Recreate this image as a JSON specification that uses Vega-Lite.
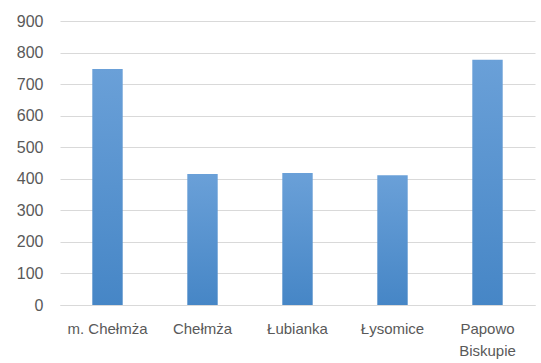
{
  "$schema": "https://vega.github.io/schema/vega-lite/v6.json",
  "width": 475,
  "height": 284,
  "autosize": {"type": "none"},
  "padding": {"left": 60, "top": 21, "right": 6, "bottom": 58},
  "background": "white",
  "data": {
    "values": [
      {"gmina": "m. Chełmża", "value": 748},
      {"gmina": "Chełmża", "value": 415},
      {"gmina": "Łubianka", "value": 418},
      {"gmina": "Łysomice", "value": 411},
      {"gmina": "Papowo Biskupie", "value": 777}
    ]
  },
  "mark": {
    "type": "bar",
    "color": {
      "gradient": "linear",
      "x1": 0, "y1": 0, "x2": 0, "y2": 1,
      "stops": [
        {"offset": 0, "color": "#6aa0d8"},
        {"offset": 1, "color": "#4686c6"}
      ]
    }
  },
  "encoding": {
    "x": {
      "field": "gmina",
      "type": "nominal",
      "sort": null,
      "scale": {"paddingInner": 0.68, "paddingOuter": 0.34},
      "axis": {
        "title": null,
        "labelAngle": 0,
        "ticks": false,
        "domain": true,
        "domainColor": "#d9d9d9",
        "domainWidth": 1,
        "labelPadding": 16,
        "labelFont": "Liberation Sans",
        "labelFontSize": 15,
        "labelLineHeight": 22,
        "labelColor": "#595959",
        "labelExpr": "datum.label == 'Papowo Biskupie' ? ['Papowo', 'Biskupie'] : datum.label"
      }
    },
    "y": {
      "field": "value",
      "type": "quantitative",
      "scale": {"domain": [0, 900], "nice": false},
      "axis": {
        "title": null,
        "values": [0, 100, 200, 300, 400, 500, 600, 700, 800, 900],
        "ticks": false,
        "domain": false,
        "gridColor": "#d9d9d9",
        "gridWidth": 1,
        "labelPadding": 17,
        "labelFont": "Liberation Sans",
        "labelFontSize": 16,
        "labelColor": "#595959"
      }
    }
  },
  "config": {"view": {"stroke": null}}
}
